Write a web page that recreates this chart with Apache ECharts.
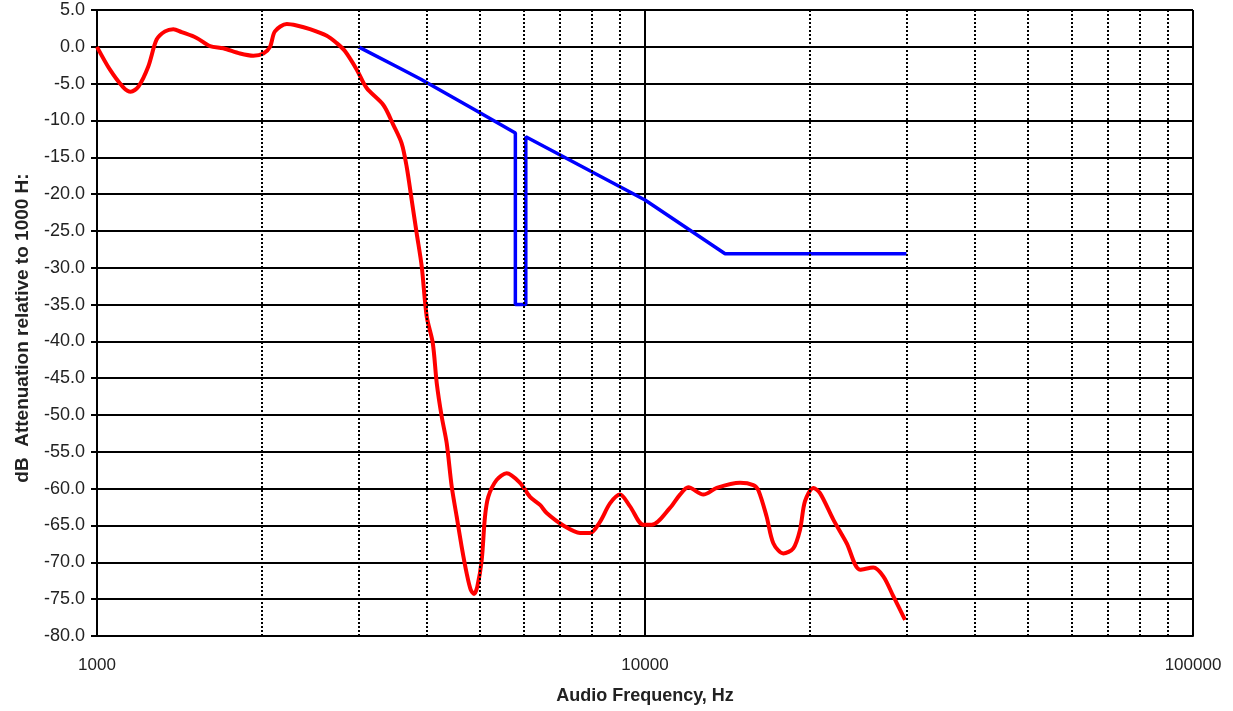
<!DOCTYPE html>
<html>
<head>
<meta charset="utf-8">
<script src="https://cdn.jsdelivr.net/npm/echarts@6/dist/echarts.min.js"></script>
<style>
html,body{margin:0;padding:0;background:#fff;}
#chart{width:1233px;height:711px;}
</style>
</head>
<body>
<div id="chart"></div>
<script>
// Measured response (red)
const redFreq = [1000,1056,1117,1152,1190,1240,1285,1331,1378,1427,1520,1608,1700,1824,1929,2012,2069,2112,2220,2314,2447,2626,2738,2836,2979,3105,3331,3473,3597,3674,3752,3831,3913,3996,4099,4169,4256,4346,4439,4533,4629,4727,4807,4875,4943,5035,5105,5176,5362,5592,5914,6168,6433,6616,7096,7611,7937,8277,8632,9004,9389,9929,10285,11108,11584,11995,12778,13516,14908,15763,16100,16673,17146,17883,18648,19179,19588,20283,20862,22063,23336,24686,26103,27220,28388,29822];
const redDb   = [0,-3.1,-5.5,-6.1,-5.4,-2.7,1.0,2.1,2.4,2.0,1.2,0.1,-0.2,-0.9,-1.2,-0.9,0.0,2.1,3.1,2.9,2.4,1.5,0.5,-0.6,-3.1,-5.6,-7.9,-10.6,-13.1,-16.3,-20.8,-25.3,-29.8,-36.6,-40.2,-45.7,-50.2,-53.8,-59.7,-63.8,-67.9,-71.5,-73.7,-74.3,-73.3,-69.7,-63.8,-61.1,-58.8,-57.9,-59.2,-61.1,-62.2,-63.3,-65.0,-66.0,-66.0,-64.5,-62.0,-60.8,-62.4,-64.9,-64.9,-62.6,-60.8,-59.8,-60.8,-59.9,-59.2,-59.5,-60.2,-63.8,-67.4,-68.8,-68.1,-65.6,-61.7,-59.9,-60.6,-64.2,-67.4,-71.0,-70.7,-71.9,-74.6,-77.8];
// Limit mask (blue)
const blueFreq = [3000,3570,3900,4800,5800,5800,6060,6060,10000,14000,30000];
const blueDb   = [0,-2.9,-4.4,-8.2,-11.7,-35,-35,-12.2,-20.8,-28.1,-28.1];
// Minor (dotted) frequency gridlines
const minorFreq = [2000,3000,4000,5000,6000,7000,8000,9000,20000,30000,40000,50000,60000,70000,80000,90000];
const xTitle = "Audio Frequency, Hz";
const yTitle = "dB  Attenuation relative to 1000 H:";

const zip = (a,b) => a.map((v,i)=>[v,b[i]]);
const chart = echarts.init(document.getElementById('chart'));
const font = '"Liberation Sans", Arial, sans-serif';
chart.setOption({
  animation:false,
  grid:{left:97,right:40,top:10,bottom:75,containLabel:false},
  xAxis:{
    type:'log', logBase:10, min:1000, max:100000,
    axisLine:{show:true,onZero:false,lineStyle:{color:'#000',width:2}},
    axisTick:{show:false},
    axisLabel:{margin:21,fontSize:17,color:'#222',fontFamily:font,
      formatter:v=>String(Math.round(v))},
    splitLine:{show:true,lineStyle:{color:'#000',width:2,type:'solid'}},
    minorTick:{show:false},
    name:xTitle,nameLocation:'middle',nameGap:51,
    nameTextStyle:{fontSize:18,fontWeight:'bold',color:'#222',fontFamily:font}
  },
  yAxis:{
    type:'value', min:-80, max:5, interval:5,
    axisLine:{show:true,onZero:false,lineStyle:{color:'#000',width:2}},
    axisTick:{show:true,length:6,lineStyle:{color:'#000',width:2}},
    axisLabel:{margin:12,fontSize:18,color:'#222',fontFamily:font,
      formatter:v=>v.toFixed(1)},
    splitLine:{show:true,lineStyle:{color:'#000',width:2}}
  },
  graphic:[{
    type:'text', x:23, y:328, rotation:Math.PI/2,
    style:{text:yTitle,fontSize:19,fontWeight:'bold',fill:'#222',fontFamily:font,
      align:'center',verticalAlign:'middle'}
  }],
  series:[
    {
      type:'line', data:[], silent:true,
      markLine:{silent:true,symbol:['none','none'],label:{show:false},
        lineStyle:{color:'#000',width:2,type:[2,2]},
        data:minorFreq.map(f=>({xAxis:f}))}
    },
    {
      type:'line', data:zip(blueFreq,blueDb), showSymbol:false,
      lineStyle:{color:'#0000ff',width:3.5}, itemStyle:{color:'#0000ff'}
    },
    {
      type:'line', data:zip(redFreq,redDb), showSymbol:false, smooth:0.3,
      lineStyle:{color:'#ff0000',width:4}, itemStyle:{color:'#ff0000'}
    }
  ]
});
</script>
</body>
</html>
